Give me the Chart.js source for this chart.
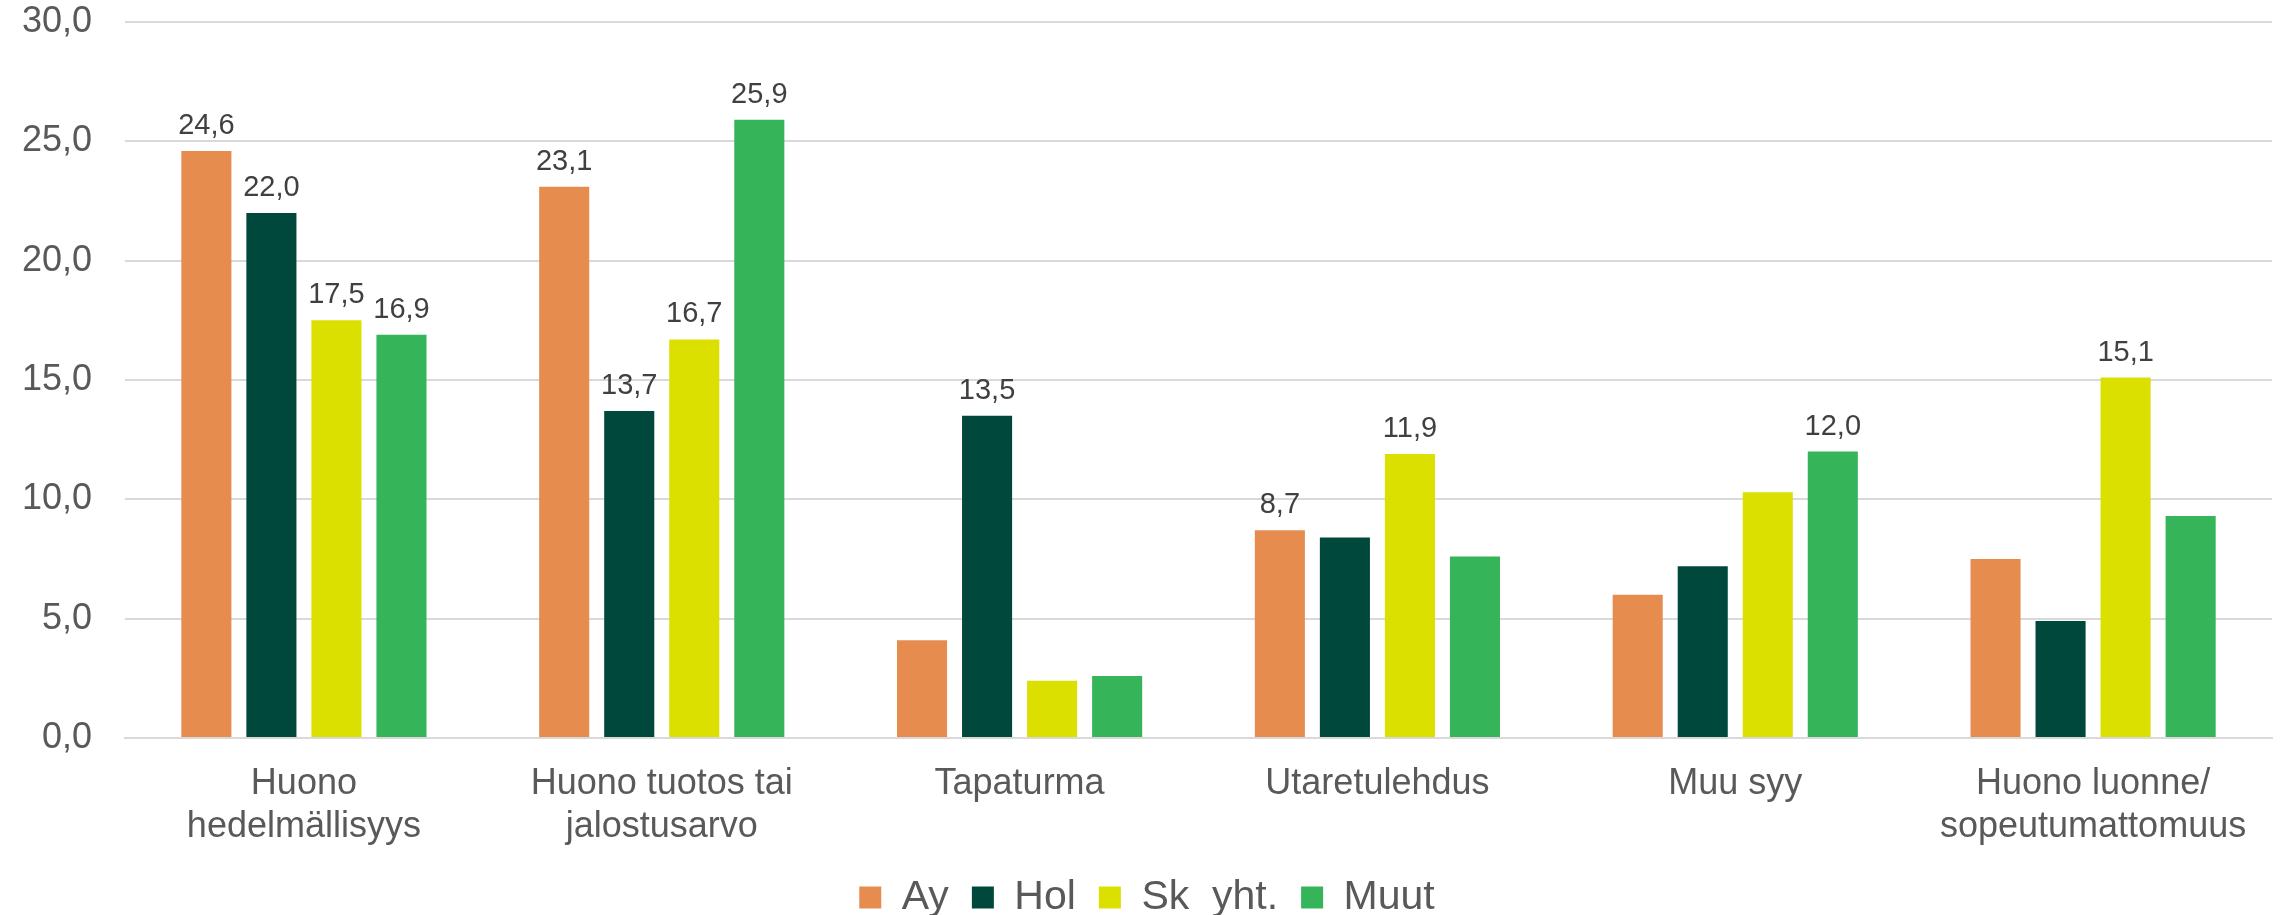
<!DOCTYPE html>
<html>
<head>
<meta charset="utf-8">
<script src="https://cdn.jsdelivr.net/npm/chart.js@4"></script>
<style>
  html, body { margin: 0; padding: 0; background: #ffffff; }
  #wrap { width: 2282px; height: 915px; position: relative; }
</style>
</head>
<body>
<div id="wrap"><canvas id="chart"></canvas></div>
<script>
// Categories (multi-line where the picture wraps them)
const categories = [
  ["Huono", "hedelmällisyys"],
  ["Huono tuotos tai", "jalostusarvo"],
  "Tapaturma",
  "Utaretulehdus",
  "Muu syy",
  ["Huono luonne/", "sopeutumattomuus"]
];

// Series values
const ayValues   = [24.6, 23.1, 4.1, 8.7, 6.0, 7.5];
const holValues  = [22.0, 13.7, 13.5, 8.4, 7.2, 4.9];
const skValues   = [17.5, 16.7, 2.4, 11.9, 10.3, 15.1];
const muutValues = [16.9, 25.9, 2.6, 7.6, 12.0, 9.3];

// Which bars carry a value label in the original
const ayLabeled   = [true, true, false, true, false, false];
const holLabeled  = [true, true, true, false, false, false];
const skLabeled   = [true, true, false, true, false, true];
const muutLabeled = [true, true, false, false, true, false];

const seriesNames = ["Ay", "Hol", "Sk  yht.", "Muut"];

// Y axis ticks
const yMin = 0;
const yMax = 30;
const yStep = 5;

const colors = {
  ay: "#E68C4F",
  hol: "#00483C",
  sk: "#DCE000",
  muut: "#35B45A",
  text: "#595959",
  label: "#404040",
  grid: "#D9D9D9"
};

const fmt = v => v.toFixed(1).replace(".", ",");

// Draws the value above the bars that are flagged in the *Labeled arrays
const valueLabels = {
  id: "valueLabels",
  afterDatasetsDraw(chart) {
    const ctx = chart.ctx;
    ctx.save();
    ctx.font = "29px 'Liberation Sans', Arial, sans-serif";
    ctx.fillStyle = colors.label;
    ctx.textAlign = "center";
    ctx.textBaseline = "alphabetic";
    chart.data.datasets.forEach((ds, i) => {
      const meta = chart.getDatasetMeta(i);
      meta.data.forEach((bar, j) => {
        if (!ds.showLabel[j]) return;
        ctx.fillText(fmt(ds.data[j]), bar.x, bar.y - 17);
      });
    });
    ctx.restore();
  }
};

function makeDataset(name, values, flags, color) {
  return {
    label: name,
    data: values,
    showLabel: flags,
    backgroundColor: color,
    borderWidth: 0,
    categoryPercentage: 0.727,
    barPercentage: 0.77
  };
}

const font = "'Liberation Sans', Arial, sans-serif";

new Chart(document.getElementById("chart"), {
  type: "bar",
  data: {
    labels: categories,
    datasets: [
      makeDataset(seriesNames[0], ayValues, ayLabeled, colors.ay),
      makeDataset(seriesNames[1], holValues, holLabeled, colors.hol),
      makeDataset(seriesNames[2], skValues, skLabeled, colors.sk),
      makeDataset(seriesNames[3], muutValues, muutLabeled, colors.muut)
    ]
  },
  options: {
    responsive: true,
    maintainAspectRatio: false,
    animation: false,
    layout: { padding: { left: 22, right: 10, top: 22, bottom: -13 } },
    plugins: {
      legend: {
        position: "bottom",
        labels: {
          color: colors.text,
          font: { family: font, size: 41 },
          boxWidth: 22,
          boxHeight: 22,
          padding: 23
        }
      },
      tooltip: { enabled: false }
    },
    scales: {
      x: {
        grid: { display: false, drawTicks: false },
        border: { display: true, color: colors.grid, width: 2 },
        ticks: {
          color: colors.text,
          font: { family: font, size: 36, lineHeight: 1.2 },
          padding: 24,
          maxRotation: 0,
          autoSkip: false
        },
        afterFit: scale => { scale.height = 116; }
      },
      y: {
        min: yMin,
        max: yMax,
        grid: { color: colors.grid, lineWidth: 2, drawTicks: false },
        border: { display: false },
        ticks: {
          stepSize: yStep,
          color: colors.text,
          font: { family: font, size: 36 },
          padding: 33,
          callback: v => fmt(v)
        },
        // fixed label column; the tick padding should not push the plot down
        afterFit: scale => {
          scale.width = 103;
          scale.paddingTop = 0;
          scale.paddingBottom = 0;
        }
      }
    }
  },
  plugins: [valueLabels]
});
</script>
</body>
</html>
